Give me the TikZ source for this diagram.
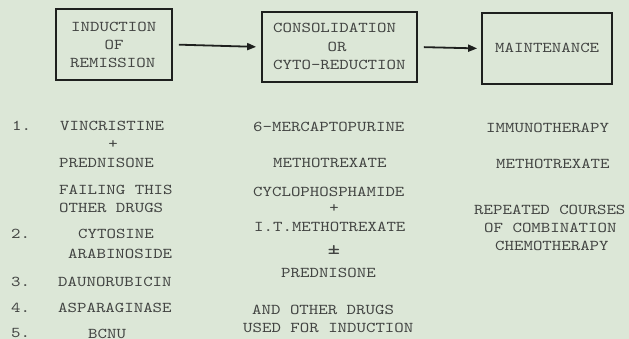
\documentclass[tikz,border=0pt]{standalone}
\usepackage{fontspec}
\newfontfamily\tw[Extension=.otf, FakeStretch=1.2]{lmmono10-regular}
\usetikzlibrary{arrows.meta}
\definecolor{bg}{RGB}{220,231,215}
\definecolor{ink}{RGB}{66,68,66}
\definecolor{boxline}{RGB}{30,32,30}
\begin{document}
\begin{tikzpicture}[x=1pt,y=-1pt,
  txt/.style={inner sep=0pt, text height=9.2pt, text depth=0pt, font=\tw\fontsize{15pt}{15pt}\selectfont, text=ink},
  lt/.style={txt, anchor=west},
  ct/.style={txt, anchor=center},
  stagebox/.style={draw=boxline, line width=1.7pt, inner sep=0pt},
  arr/.style={draw=boxline, line width=1.8pt, -{Triangle[length=9pt,width=7pt]}}]
\fill[bg] (0,0) rectangle (629,339);
\useasboundingbox (0,0) rectangle (629,339);
% boxes
\node[stagebox, minimum width=116pt, minimum height=71pt] (b1) at (114,44.5) {};
\node[stagebox, minimum width=155pt, minimum height=70pt] (b2) at (339.5,47) {};
\node[stagebox, minimum width=130pt, minimum height=71pt] (b3) at (547,48.5) {};
\draw[arr, shorten <=6pt, shorten >=5pt] (b1.east) -- (b2.west);
\draw[arr, shorten <=6pt, shorten >=4pt] (b2.east) -- (b3.west);
% box texts
\node[lt] (t11) at (71,27) {INDUCTION};
\node[ct] (t12) at (114,45) {OF};
\node[lt] (t13) at (70,63) {REMISSION};
\node[lt] (t21) at (273,28) {CONSOLIDATION};
\node[ct] (t22) at (337,47) {OR};
\node[lt] (t23) at (273,65) {CYTO-REDUCTION};
\node[lt] (t31) at (495,48) {MAINTENANCE};
% left column
\node[lt] (n1) at (12,126) {1.};
\node[lt] (l1) at (60,126) {VINCRISTINE};
\node[ct] (l2) at (113,144) {+};
\node[lt] (l3) at (59,163) {PREDNISONE};
\node[lt] (l4) at (59,190) {FAILING THIS};
\node[lt] (l5) at (59,208) {OTHER DRUGS};
\node[lt] (n2) at (11,234) {2.};
\node[lt] (l6) at (78,234) {CYTOSINE};
\node[lt] (l7) at (68,254) {ARABINOSIDE};
\node[lt] (n3) at (11,282) {3.};
\node[lt] (l8) at (58,282) {DAUNORUBICIN};
\node[lt] (n4) at (11,308) {4.};
\node[lt] (l9) at (58,308) {ASPARAGINASE};
\node[lt] (n5) at (11,333) {5.};
\node[lt] (l10) at (88,334) {BCNU};
% middle column
\node[lt] (m1) at (253,127) {6-MERCAPTOPURINE};
\node[lt] (m2) at (273,163) {METHOTREXATE};
\node[lt] (m3) at (253,192) {CYCLOPHOSPHAMIDE};
\node[ct] (m4) at (334,208) {+};
\node[lt] (m5) at (254,227) {I.T.METHOTREXATE};
\node[ct, text height=, text depth=, font=\tw\fontsize{20pt}{20pt}\selectfont] (m6) at (334,250) {±};
\node[lt] (m7) at (281,273) {PREDNISONE};
\node[lt] (m8) at (252,310) {AND OTHER DRUGS};
\node[lt] (m9) at (243,328) {USED FOR INDUCTION};
% right column
\node[lt] (r1) at (486,128) {IMMUNOTHERAPY};
\node[lt] (r2) at (496,164) {METHOTREXATE};
\node[lt] (r3) at (474,210) {REPEATED COURSES};
\node[lt] (r4) at (484,228) {OF COMBINATION};
\node[lt] (r5) at (495,246) {CHEMOTHERAPY};
\end{tikzpicture}
\end{document}
